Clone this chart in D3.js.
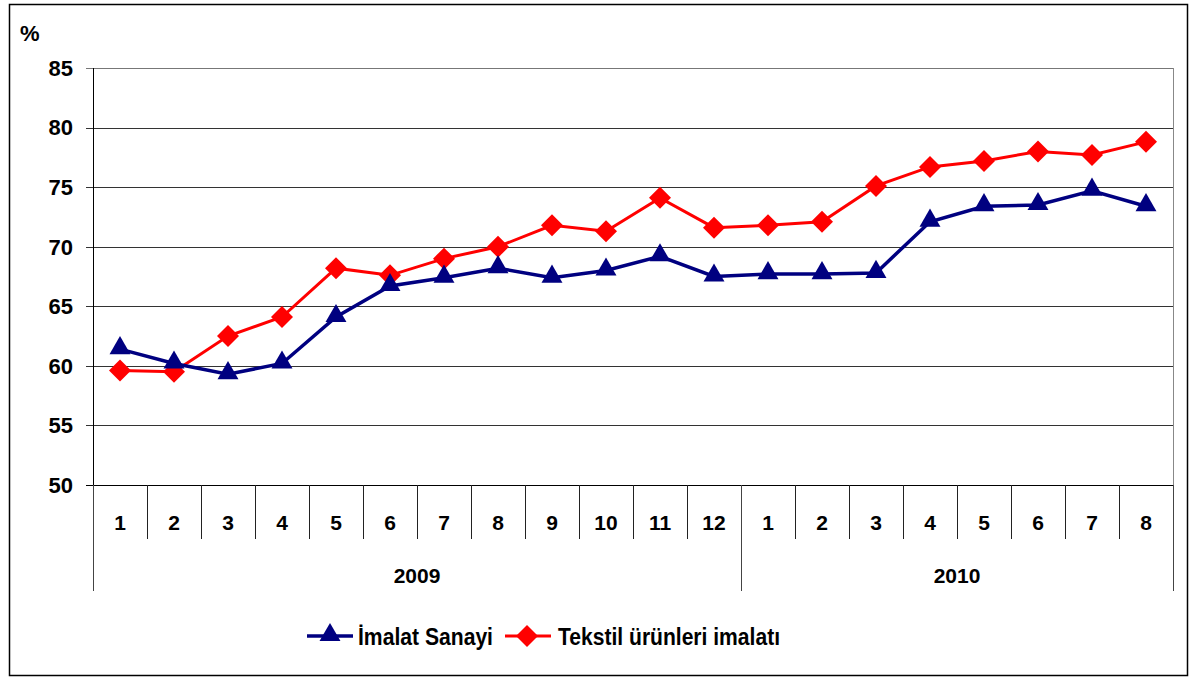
<!DOCTYPE html>
<html>
<head>
<meta charset="utf-8">
<script src="https://cdn.jsdelivr.net/npm/d3@7"></script>
<style>
  body { margin: 0; background: #fff; }
  text { font-family: "Liberation Sans", Arial, sans-serif; font-weight: bold; fill: #000; }
</style>
</head>
<body>
<div id="chart"></div>
<script>
// months of the two years
var months = ["1","2","3","4","5","6","7","8","9","10","11","12","1","2","3","4","5","6","7","8"];
var years = [{name: "2009", count: 12}, {name: "2010", count: 8}];
var imalat = [61.4, 60.2, 59.3, 60.2, 64.1, 66.7, 67.4, 68.2, 67.4, 68.0, 69.2, 67.5, 67.7, 67.7, 67.8, 72.1, 73.4, 73.5, 74.7, 73.4];
var tekstil = [59.6, 59.5, 62.5, 64.1, 68.2, 67.6, 69.0, 70.0, 71.8, 71.3, 74.1, 71.6, 71.8, 72.1, 75.1, 76.7, 77.2, 78.0, 77.7, 78.8];
var yTicks = [50, 55, 60, 65, 70, 75, 80, 85];
var seriesNames = ["İmalat Sanayi", "Tekstil ürünleri imalatı"];

var width = 1192, height = 678;
var pLeft = 93, pRight = 1173, pTop = 68, pBottom = 485;

var svg = d3.select("#chart").append("svg")
  .attr("width", width).attr("height", height);

// outer frame
svg.append("rect").attr("x", 9.5).attr("y", 4.5).attr("width", 1178).attr("height", 671)
  .attr("fill", "none").attr("stroke", "#000").attr("stroke-width", 1.5);

var x = d3.scaleBand().domain(d3.range(months.length)).range([pLeft, pRight]);
var y = d3.scaleLinear().domain([50, 85]).range([pBottom, pTop]);

// grid lines
svg.append("g").selectAll("line").data(yTicks).join("line")
  .attr("x1", pLeft - 7).attr("x2", pRight)
  .attr("y1", d => Math.round(y(d)) + 0.5).attr("y2", d => Math.round(y(d)) + 0.5)
  .attr("stroke", d => d == 85 ? "#777" : (d == 50 ? "#000" : "#333"))
  .attr("stroke-width", 1);

// right border of plot
svg.append("line").attr("x1", pRight + 0.5).attr("x2", pRight + 0.5)
  .attr("y1", pTop).attr("y2", pBottom).attr("stroke", "#888");

// y axis
svg.append("line").attr("x1", pLeft + 0.5).attr("x2", pLeft + 0.5)
  .attr("y1", pTop).attr("y2", pBottom).attr("stroke", "#000");

svg.append("g").selectAll("text").data(yTicks).join("text")
  .attr("x", pLeft - 20).attr("y", d => y(d)).attr("dy", "0.36em")
  .attr("text-anchor", "end").attr("font-size", 22).text(d => d);

svg.append("text").attr("x", 20).attr("y", 41).attr("font-size", 22).text("%");

// category separators
var monthSep = d3.range(months.length + 1);
var yearBounds = [0, 12, 20];
svg.append("g").selectAll("line").data(monthSep).join("line")
  .attr("x1", d => Math.round(pLeft + d * x.bandwidth()) + 0.5)
  .attr("x2", d => Math.round(pLeft + d * x.bandwidth()) + 0.5)
  .attr("y1", pBottom)
  .attr("y2", d => yearBounds.indexOf(d) >= 0 ? 591 : 539)
  .attr("stroke", d => yearBounds.indexOf(d) >= 0 ? "#444" : "#222");

svg.append("g").selectAll("text").data(months).join("text")
  .attr("x", (d, i) => x(i) + x.bandwidth() / 2).attr("y", 530)
  .attr("text-anchor", "middle").attr("font-size", 21).text(d => d);

var start = 0;
years.forEach(function(yr) {
  var cx = pLeft + (start + yr.count / 2) * x.bandwidth();
  svg.append("text").attr("x", cx).attr("y", 583).attr("text-anchor", "middle")
    .attr("font-size", 21).text(yr.name);
  start += yr.count;
});

var cxOf = i => x(i) + x.bandwidth() / 2;
var line = d3.line().x((d, i) => cxOf(i)).y(d => y(d));

var triangle = d3.symbol().type(d3.symbolTriangle).size(190);
var diamond = "M0,-11L11,0L0,11L-11,0Z";

// tekstil
svg.append("path").datum(tekstil).attr("d", line)
  .attr("fill", "none").attr("stroke", "#ff0000").attr("stroke-width", 3);
// imalat
svg.append("path").datum(imalat).attr("d", line)
  .attr("fill", "none").attr("stroke", "#000080").attr("stroke-width", 3.5);

svg.append("g").selectAll("path").data(tekstil).join("path")
  .attr("transform", (d, i) => "translate(" + cxOf(i) + "," + y(d) + ")")
  .attr("d", diamond).attr("fill", "#ff0000");

svg.append("g").selectAll("path").data(imalat).join("path")
  .attr("transform", (d, i) => "translate(" + cxOf(i) + "," + (y(d) - 1) + ")")
  .attr("d", triangle).attr("fill", "#000080");

// legend
var lg = svg.append("g").attr("transform", "translate(0,636)");
lg.append("line").attr("x1", 307).attr("x2", 353).attr("stroke", "#000080").attr("stroke-width", 3.5);
lg.append("path").attr("transform", "translate(330,-1)").attr("d", triangle).attr("fill", "#000080");
lg.append("text").attr("x", 358).attr("y", 0).attr("dy", "0.36em").attr("font-size", 24)
  .attr("textLength", 135).attr("lengthAdjust", "spacingAndGlyphs").text(seriesNames[0]);
lg.append("line").attr("x1", 505).attr("x2", 551).attr("stroke", "#ff0000").attr("stroke-width", 3);
lg.append("path").attr("transform", "translate(527,0)").attr("d", diamond).attr("fill", "#ff0000");
lg.append("text").attr("x", 558).attr("y", 0).attr("dy", "0.36em").attr("font-size", 24)
  .attr("textLength", 222).attr("lengthAdjust", "spacingAndGlyphs").text(seriesNames[1]);
</script>
</body>
</html>
